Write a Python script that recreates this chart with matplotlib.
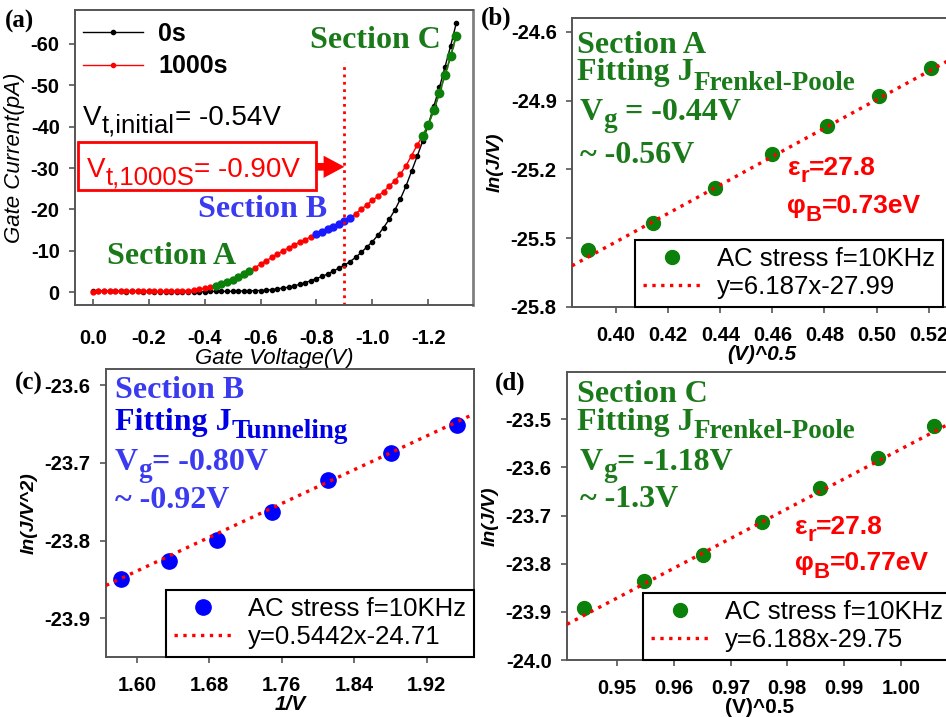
import numpy as np
import matplotlib
matplotlib.use("Agg")
import matplotlib.pyplot as plt
import matplotlib.patches as patches
from matplotlib.lines import Line2D

plt.rcParams["axes.unicode_minus"] = False

W, H = 946, 717
SANS = "Liberation Sans"
SERIF = "Liberation Serif"
GREEN = "#1a7a1a"
GREEN_PT = "#0b800b"
BLUE_TXT = "#3a3af0"
BLUE_DARK = "#0000e6"
RED = "#ff0000"

# ---- panel (a): gate current vs gate voltage ----
gate_v = [0.00, -0.02, -0.04, -0.06, -0.08, -0.10, -0.12, -0.14, -0.16, -0.18,
          -0.20, -0.22, -0.24, -0.26, -0.28, -0.30, -0.32, -0.34, -0.36, -0.38,
          -0.40, -0.42, -0.44, -0.46, -0.48, -0.50, -0.52, -0.54, -0.56, -0.58,
          -0.60, -0.62, -0.64, -0.66, -0.68, -0.70, -0.72, -0.74, -0.76, -0.78,
          -0.80, -0.82, -0.84, -0.86, -0.88, -0.90, -0.92, -0.94, -0.96, -0.98,
          -1.00, -1.02, -1.04, -1.06, -1.08, -1.10, -1.12, -1.14, -1.16, -1.18,
          -1.20, -1.22, -1.24, -1.26, -1.28, -1.30]
i_0s = [-0.2, -0.2, -0.3, -0.2, -0.2, -0.2, -0.1, -0.2, -0.2, -0.1,
        -0.2, -0.1, -0.1, -0.1, -0.1, -0.1, -0.1, -0.1, -0.1, -0.1,
        -0.1, -0.2, -0.2, -0.2, -0.2, -0.2, -0.3, -0.3, -0.3, -0.4,
        -0.4, -0.5, -0.6, -0.8, -1.0, -1.2, -1.5, -1.9, -2.3, -2.8,
        -3.3, -3.8, -4.4, -5.1, -5.8, -6.5, -7.4, -8.4, -9.6, -10.9,
        -12.2, -13.8, -15.6, -17.6, -19.8, -22.5, -25.6, -29.2, -32.8, -36.5,
        -40.5, -45.0, -49.5, -54.5, -59.5, -65.0]
i_1000s = [-0.1, -0.2, -0.3, -0.2, -0.3, -0.2, -0.2, -0.3, -0.2, -0.2,
           -0.3, -0.2, -0.2, -0.3, -0.2, -0.3, -0.3, -0.4, -0.5, -0.7,
           -0.9, -1.2, -1.5, -1.9, -2.4, -3.0, -3.6, -4.3, -5.0, -5.9,
           -6.8, -7.6, -8.4, -9.2, -10.0, -10.7, -11.4, -12.1, -12.7, -13.4,
           -14.0, -14.6, -15.2, -15.8, -16.4, -17.1, -17.9, -19.0, -20.0, -21.1,
           -22.2, -23.2, -24.3, -25.6, -26.9, -28.5, -30.5, -33.0, -35.5, -37.8,
           -40.5, -44.0, -48.2, -52.5, -57.0, -62.0]
section_a = (-0.44, -0.56)
section_b = (-0.80, -0.92)
section_c = (-1.18, -1.30)
vt_1000s = -0.90

# ---- panels (b), (c), (d): fits ----
xb = [0.389, 0.414, 0.438, 0.460, 0.481, 0.501, 0.521]
yb = [-25.550, -25.434, -25.282, -25.134, -25.009, -24.878, -24.757]
fit_b = (6.187, -27.99)

xc = [1.582, 1.635, 1.689, 1.749, 1.811, 1.880, 1.953]
yc = [-23.849, -23.826, -23.799, -23.763, -23.722, -23.687, -23.651]
fit_c = (0.5442, -24.71)

xd = [0.9442, 0.9548, 0.9651, 0.9755, 0.9857, 0.9959, 1.0058]
yd = [-23.892, -23.835, -23.783, -23.714, -23.643, -23.581, -23.515]
fit_d = (6.188, -29.75)

fig = plt.figure(figsize=(W / 100, H / 100), dpi=100)


def box(l, t, r, b):
    return [l / W, 1 - b / H, (r - l) / W, (b - t) / H]


def rich(x, y, parts, color, family, weight="bold"):
    rend = fig.canvas.get_renderer()
    cx = x
    for s, size, dy in parts:
        t = fig.text(cx / W, 1 - (y + dy) / H, s, fontsize=size, color=color,
                     family=family, weight=weight, ha="left", va="baseline")
        cx += t.get_window_extent(renderer=rend).width


def style_axes(ax, xpad=9.5, xdir="out"):
    for sp in ax.spines.values():
        sp.set_color("#555555")
        sp.set_linewidth(1.4)
    ax.tick_params(direction="out", length=4, width=1.2, color="#555555",
                   labelsize=14.5, pad=7)
    ax.tick_params(axis="x", direction=xdir, pad=xpad)
    for lab in ax.get_xticklabels() + ax.get_yticklabels():
        lab.set_family(SANS)
        lab.set_weight("bold")


# ===== (a) =====
ax = fig.add_axes(box(75, 10, 473, 305))
v = np.array(gate_v)
ia = np.array(i_0s)
ib = np.array(i_1000s)
ax.plot(v, ia, color="black", lw=1, marker="o", ms=3)
ax.plot(v, ib, color=RED, lw=1, marker="o", ms=3.5)


def sect(rng):
    return (v <= rng[0] + 1e-9) & (v >= rng[1] - 1e-9)


m = sect(section_a)
ax.plot(v[m], ib[m], color=GREEN_PT, lw=1, marker="o", ms=5)
m = sect(section_b)
ax.plot(v[m], ib[m], color="#1a1aff", lw=1, marker="o", ms=5)
m = sect(section_c)
ax.plot(v[m], ib[m], color=GREEN_PT, lw=1.2, marker="o", ms=6)
ax.axvline(vt_1000s, ymin=0, ymax=0.824, color=RED, ls=":", lw=2)

ax.set_xlim(0.064, -1.36)
ax.set_ylim(3.1, -68.2)
ax.set_xticks([0, -0.2, -0.4, -0.6, -0.8, -1.0, -1.2])
ax.set_xticklabels(["0.0", "-0.2", "-0.4", "-0.6", "-0.8", "-1.0", "-1.2"])
ax.set_yticks([-60, -50, -40, -30, -20, -10, 0])
ax.set_yticklabels(["-60", "-50", "-40", "-30", "-20", "-10", "0"])
style_axes(ax, xpad=17, xdir="in")
ax.spines["right"].set_color("#808080")
ax.spines["right"].set_linewidth(2)
ax.set_xlabel("Gate Voltage(V)", family=SANS, style="italic", fontsize=16, labelpad=0)
ax.set_ylabel("Gate Current(pA)", family=SANS, style="italic", fontsize=16, labelpad=4)

handles = [Line2D([], [], color="black", lw=1, marker="o", ms=3),
           Line2D([], [], color=RED, lw=1, marker="o", ms=3)]
ax.legend(handles, ["0s", "1000s"], loc="upper left", bbox_to_anchor=(-0.03, 1.028),
          frameon=False, prop={"family": SANS, "weight": "bold", "size": 18},
          handlelength=2.4, handletextpad=0.6, labelspacing=0.35, borderpad=0.3)

fig.text(5 / W, 1 - 28 / H, "(a)", family=SERIF, weight="bold", fontsize=18, va="baseline")
rich(83, 125, [("V", 20, 0), ("t,initial", 18.5, 7), ("= -0.54V", 20, 0)], "black", SANS, "normal")
fig.add_artist(patches.Rectangle((78 / W, 1 - 190 / H), 238 / W, 48 / H, transform=fig.transFigure,
                                 fill=False, ec=RED, lw=2))
rich(87, 177, [("V", 20, 0), ("t,1000S", 18.5, 8), ("= -0.90V", 20, 0)], RED, SANS, "normal")
ax.annotate("", xy=(vt_1000s, -30.3), xytext=(-0.796, -30.3),
            arrowprops=dict(arrowstyle="simple,head_length=1.5,head_width=1.6,tail_width=0.55",
                            color=RED, lw=0, shrinkA=0, shrinkB=0), annotation_clip=False)
fig.text(310 / W, 1 - 48 / H, "Section C", family=SERIF, weight="bold", fontsize=23,
         color=GREEN, va="baseline")
fig.text(198 / W, 1 - 217 / H, "Section B", family=SERIF, weight="bold", fontsize=23,
         color=BLUE_TXT, va="baseline")
fig.text(107 / W, 1 - 264 / H, "Section A", family=SERIF, weight="bold", fontsize=23,
         color=GREEN, va="baseline")


def fit_panel(rect, xs, ys, fit, xlim, ylim, xticks, yticks, xfmt, yfmt, color, ms,
              leg_left, xlabel, xstyle, ylabel):
    ax = fig.add_axes(box(*rect))
    ax.set_xlim(*xlim)
    ax.set_ylim(*ylim)
    xx = np.array(xlim)
    ax.plot(xs, ys, "o", color=color, ms=ms, zorder=2)
    ax.plot(xx, fit[0] * xx + fit[1], color=RED, ls=":", lw=2.4, zorder=3)
    ax.set_xticks(xticks)
    ax.set_xticklabels([xfmt % t for t in xticks])
    ax.set_yticks(yticks)
    ax.set_yticklabels([yfmt % t for t in yticks])
    style_axes(ax)
    ax.set_xlabel(xlabel, family=SANS, weight="bold", style=xstyle, fontsize=15, labelpad=0)
    ax.set_ylabel(ylabel, family=SANS, weight="bold", style="italic", fontsize=14, labelpad=5)
    handles = [Line2D([], [], ls="none", marker="o", color=color, ms=ms),
               Line2D([], [], color=RED, ls=":", lw=2.4)]
    sign = "-" if fit[1] < 0 else "+"
    labels = ["AC stress f=10KHz", "y=%gx%s%g" % (fit[0], sign, abs(fit[1]))]
    lx = (leg_left - rect[0]) / (rect[2] - rect[0])
    leg = ax.legend(handles, labels, loc="lower left", bbox_to_anchor=(lx, 0.0),
                    borderaxespad=0, fancybox=False, framealpha=1, edgecolor="black",
                    prop={"family": SANS, "size": 18.5}, handlelength=2.3,
                    handletextpad=0.6, labelspacing=0.15, borderpad=0.3)
    leg.get_frame().set_linewidth(1.5)
    return ax


# ===== (b) =====
fit_panel((572, 18, 952, 307), xb, yb, fit_b, (0.383, 0.529), (-25.8, -24.54),
          [0.40, 0.42, 0.44, 0.46, 0.48, 0.50, 0.52], [-24.6, -24.9, -25.2, -25.5, -25.8],
          "%.2f", "%.1f", GREEN_PT, 10, 635, "(V)^0.5", "italic", "ln(J/V)")
fig.text(481 / W, 1 - 25 / H, "(b)", family=SERIF, weight="bold", fontsize=18, va="baseline")
fig.text(577 / W, 1 - 53 / H, "Section A", family=SERIF, weight="bold", fontsize=23,
         color=GREEN, va="baseline")
rich(577, 80, [("Fitting J", 23, 0), ("Frenkel-Poole", 19.5, 10)], GREEN, SERIF)
rich(580, 120, [("V", 23, 0), ("g", 19.5, 7), (" = -0.44V", 23, 0)], GREEN, SERIF)
fig.text(580 / W, 1 - 163 / H, "~ -0.56V", family=SERIF, weight="bold", fontsize=23,
         color=GREEN, va="baseline")
rich(788, 175, [("ε", 19, 0), ("r", 16, 7), ("=27.8", 19, 0)], RED, [SANS, "DejaVu Sans"])
rich(787, 213, [("φ", 19, 0), ("B", 16, 8), ("=0.73eV", 19, 0)], RED, [SANS, "DejaVu Sans"])

# ===== (c) =====
fit_panel((106, 369, 474, 657), xc, yc, fit_c, (1.566, 1.972), (-23.95, -23.579),
          [1.60, 1.68, 1.76, 1.84, 1.92], [-23.6, -23.7, -23.8, -23.9],
          "%.2f", "%.1f", "#0000ff", 11, 166, "1/V", "italic", "ln(J/V^2)")
fig.text(15 / W, 1 - 390 / H, "(c)", family=SERIF, weight="bold", fontsize=18, va="baseline")
fig.text(115 / W, 1 - 398 / H, "Section B", family=SERIF, weight="bold", fontsize=23,
         color=BLUE_TXT, va="baseline")
rich(115, 430, [("Fitting J", 23, 0), ("Tunneling", 19.5, 8)], BLUE_DARK, SERIF)
rich(115, 470, [("V", 23, 0), ("g", 19.5, 7), ("= -0.80V", 23, 0)], BLUE_TXT, SERIF)
fig.text(115 / W, 1 - 508 / H, "~ -0.92V", family=SERIF, weight="bold", fontsize=23,
         color=BLUE_TXT, va="baseline")

# ===== (d) =====
fit_panel((567, 372, 952, 660), xd, yd, fit_d, (0.9412, 1.009), (-24.0, -23.402),
          [0.95, 0.96, 0.97, 0.98, 0.99, 1.00], [-23.5, -23.6, -23.7, -23.8, -23.9, -24.0],
          "%.2f", "%.1f", GREEN_PT, 10, 643, "(V)^0.5", "normal", "ln(J/V)")
fig.text(495 / W, 1 - 390 / H, "(d)", family=SERIF, weight="bold", fontsize=18, va="baseline")
fig.text(577 / W, 1 - 402 / H, "Section C", family=SERIF, weight="bold", fontsize=23,
         color=GREEN, va="baseline")
rich(577, 430, [("Fitting J", 23, 0), ("Frenkel-Poole", 19.5, 8)], GREEN, SERIF)
rich(580, 470, [("V", 23, 0), ("g", 19.5, 7), ("= -1.18V", 23, 0)], GREEN, SERIF)
fig.text(580 / W, 1 - 507 / H, "~ -1.3V", family=SERIF, weight="bold", fontsize=23,
         color=GREEN, va="baseline")
rich(795, 534, [("ε", 19, 0), ("r", 16, 7), ("=27.8", 19, 0)], RED, [SANS, "DejaVu Sans"])
rich(795, 570, [("φ", 19, 0), ("B", 16, 8), ("=0.77eV", 19, 0)], RED, [SANS, "DejaVu Sans"])

fig.savefig("out.png", dpi=100)
